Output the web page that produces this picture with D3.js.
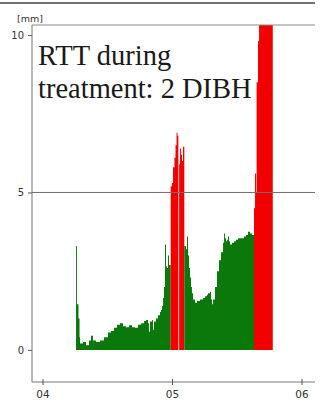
<html>
<head>
  <script src="https://d3js.org/d3.v7.min.js"></script>
  <style>
    body { margin:0; padding:0; background:white; overflow:hidden }
  </style>
</head>
<body>
<div class="chart"></div>
<script>
  var W = 322, H = 400;

  // time in minutes (axis shows 04, 05, 06), amplitude in mm
  var times = [
    4.259, 4.266, 4.278, 4.286, 4.290, 4.313, 4.336, 4.359, 4.375, 4.390,
    4.413, 4.444, 4.475, 4.506, 4.529, 4.552, 4.575, 4.598, 4.622, 4.645,
    4.668, 4.691, 4.714, 4.737, 4.761, 4.784, 4.799, 4.815, 4.822, 4.830,
    4.846, 4.853, 4.861, 4.876, 4.892, 4.907, 4.915, 4.923, 4.931, 4.938,
    4.946, 4.954, 4.961, 4.969, 4.977,
    4.990, 5.000, 5.008, 5.019, 5.027, 5.035, 5.042, 5.049, 5.055, 5.062,
    5.069, 5.077, 5.085,
    5.095, 5.108, 5.116, 5.124, 5.131, 5.139, 5.147, 5.154, 5.162, 5.178,
    5.193, 5.216, 5.239, 5.255, 5.270, 5.278, 5.293, 5.301, 5.309, 5.317,
    5.332, 5.347, 5.363, 5.378, 5.394, 5.402, 5.409, 5.417, 5.425, 5.432,
    5.440, 5.448, 5.463, 5.479, 5.494, 5.510, 5.525, 5.541, 5.556, 5.571,
    5.587, 5.602, 5.618,
    5.633, 5.641, 5.649, 5.653, 5.664, 5.672, 5.778
  ];
  var values = [
    3.3, 1.45, 1.0, 0.4, 0.2, 0.25, 0.15, 0.3, 0.45, 0.3,
    0.25, 0.3, 0.4, 0.55, 0.6, 0.7, 0.8, 0.85, 0.75, 0.72,
    0.78, 0.72, 0.7, 0.8, 0.85, 0.92, 0.95, 0.85, 0.58, 0.9,
    0.95, 0.64, 0.9, 1.0, 1.1, 1.2, 1.27, 1.4, 1.65, 2.0,
    3.34, 2.65, 2.6, 3.0, 2.7,
    5.2, 5.3, 5.8, 6.1, 6.5, 6.9, 6.8, 0, 5.9, 6.4,
    6.2, 6.0, 6.45,
    3.3, 3.2, 3.6, 3.0, 2.6, 2.3, 2.0, 1.8, 1.6, 1.5,
    1.55, 1.6, 1.65, 1.7, 1.75, 1.8, 1.85, 1.6, 1.45, 1.6,
    2.0, 2.5, 2.85, 3.1, 3.4, 3.7, 3.55, 3.45, 3.5, 3.6,
    3.45, 3.35, 3.4, 3.45, 3.5, 3.55, 3.55, 3.55, 3.6, 3.65,
    3.75, 3.7, 3.65,
    4.5, 5.6, 5.0, 8.5, 9.8, 12, 0
  ];
  // G = inside gating window, R = outside, - = no signal
  var phase = [
    "G","G","G","G","G","G","G","G","G","G",
    "G","G","G","G","G","G","G","G","G","G",
    "G","G","G","G","G","G","G","G","G","G",
    "G","G","G","G","G","G","G","G","G","G",
    "G","G","G","G","G",
    "R","R","R","R","R","R","R","-","R","R",
    "R","R","R",
    "G","G","G","G","G","G","G","G","G","G",
    "G","G","G","G","G","G","G","G","G","G",
    "G","G","G","G","G","G","G","G","G","G",
    "G","G","G","G","G","G","G","G","G","G",
    "G","G","G",
    "R","R","R","R","R","R","-"
  ];
  var yTicks = [0, 5, 10];
  var xTicks = [4, 5, 6];
  var unitLabel = "[mm]";
  var noteLines = ["RTT during", "treatment: 2 DIBH"];
  var phaseColor = { G: "#0b780b", R: "#f20000" };

  var plotLeft = 32, plotRight = 315, plotTop = 25, plotBottom = 382;

  var x = d3.scaleLinear().domain([3.919, 6.104]).range([plotLeft, plotRight]);
  var y = d3.scaleLinear().domain([-1.02, 10.32]).range([plotBottom, plotTop]);

  var svg = d3.select("div.chart").append("svg")
      .attr("width", W)
      .attr("height", H);

  // window border line
  svg.append("line")
     .attr("x1", 0).attr("x2", plotRight).attr("y1", 3).attr("y2", 3)
     .attr("stroke", "#444").attr("stroke-width", 1.5);

  svg.append("clipPath").attr("id", "plot")
     .append("rect")
     .attr("x", plotLeft).attr("y", plotTop)
     .attr("width", plotRight - plotLeft).attr("height", plotBottom - plotTop);

  // group samples into runs of the same phase
  var runs = [];
  for (var i = 0; i < times.length - 1; i++) {
    if (phase[i] == "-") continue;
    var last = runs[runs.length - 1];
    var pt = { t: times[i], v: values[i] };
    if (last && last.phase == phase[i] && last.end == i) {
      last.pts.push(pt);
      last.end = i + 1;
    } else {
      runs.push({ phase: phase[i], pts: [pt], end: i + 1 });
    }
  }
  runs.forEach(function(r) {
    r.pts.push({ t: times[r.end], v: r.pts[r.pts.length - 1].v });
  });

  var area = d3.area()
      .curve(d3.curveStepAfter)
      .x(function(d) { return x(d.t); })
      .y0(y(0))
      .y1(function(d) { return y(d.v); });

  svg.append("g")
     .attr("clip-path", "url(#plot)")
     .selectAll("path")
     .data(runs)
     .enter().append("path")
     .attr("d", function(r) { return area(r.pts); })
     .attr("fill", function(r) { return phaseColor[r.phase]; });

  // grid line at 5 and top frame
  svg.append("line")
     .attr("x1", plotLeft).attr("x2", plotRight).attr("y1", y(5)).attr("y2", y(5))
     .attr("stroke", "#707070").attr("stroke-width", 1);
  svg.append("line")
     .attr("x1", plotLeft).attr("x2", plotRight).attr("y1", plotTop).attr("y2", plotTop)
     .attr("stroke", "#8a8a8a").attr("stroke-width", 1.2);

  // y axis
  var yAxis = svg.append("g")
     .attr("transform", "translate(" + plotLeft + ",0)")
     .call(d3.axisLeft(y).tickValues(yTicks).tickSize(4).tickPadding(4));
  yAxis.select(".domain").attr("d", "M0," + plotTop + "V" + plotBottom).attr("stroke", "#777");
  yAxis.selectAll(".tick line").attr("stroke", "#555");
  yAxis.selectAll("text")
     .attr("font-family", "DejaVu Sans").attr("font-size", 10).attr("fill", "#333");

  // x axis
  var xAxis = svg.append("g")
     .attr("transform", "translate(0," + plotBottom + ")")
     .call(d3.axisBottom(x).tickValues(xTicks).tickFormat(d3.format("02d")).tickSize(3).tickPadding(6));
  xAxis.select(".domain").attr("d", "M" + plotLeft + ",0H" + plotRight).attr("stroke", "#777");
  xAxis.selectAll(".tick line").attr("y1", -3).attr("stroke", "#555");
  xAxis.selectAll("text")
     .attr("font-family", "DejaVu Sans").attr("font-size", 10.5).attr("fill", "#333");

  svg.append("text")
     .attr("x", 17).attr("y", 21.5)
     .attr("font-family", "DejaVu Sans").attr("font-size", 9.5).attr("fill", "#333")
     .text(unitLabel);

  svg.append("g").selectAll("text")
     .data(noteLines)
     .enter().append("text")
     .attr("x", 38)
     .attr("y", function(d, i) { return 65 + i * 33.3; })
     .attr("font-family", "Liberation Serif").attr("font-size", 28.5).attr("fill", "#1a1a1a")
     .text(function(d) { return d; });
</script>
</body>
</html>
